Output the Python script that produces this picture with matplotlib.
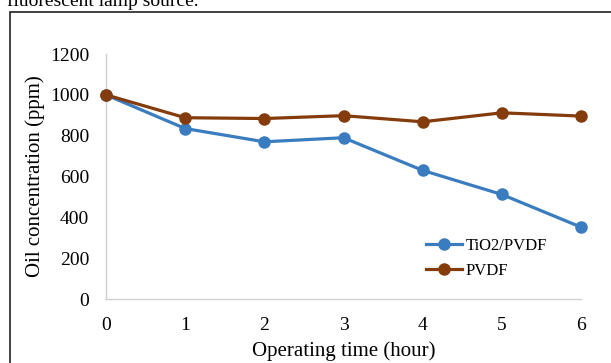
import matplotlib.pyplot as plt
from matplotlib.patches import Rectangle

# data
hours = [0, 1, 2, 3, 4, 5, 6]
tio2_pvdf = [1000, 835, 770, 790, 630, 512, 352]
pvdf = [1000, 888, 884, 898, 868, 912, 896]
y_ticks = [0, 200, 400, 600, 800, 1000, 1200]

blue = '#3A7CC0'
brown = '#843C0C'

plt.rcParams['font.family'] = ['Liberation Serif', 'DejaVu Serif']

fig = plt.figure(figsize=(6.11, 3.63), dpi=100)

# caption text cut off at the top of the crop
fig.text(0.012, 0.983, "fluorescent lamp source.", fontsize=14, ha='left', va='baseline')

# frame around the chart
fig.patches.append(Rectangle((10 / 611, -0.05), 1.2, 1 - 12 / 363 + 0.05,
                             transform=fig.transFigure, fill=False,
                             edgecolor='#222222', linewidth=1.2))

ax = fig.add_axes([0.1735, 0.1763, 0.7774, 0.6749])

ax.plot(hours, tio2_pvdf, color=blue, linewidth=2.3, marker='o', markersize=8,
        label='TiO2/PVDF', clip_on=False, zorder=3)
ax.plot(hours, pvdf, color=brown, linewidth=2.3, marker='o', markersize=8,
        label='PVDF', clip_on=False, zorder=4)

ax.set_xlim(0, 6)
ax.set_ylim(0, 1200)
ax.set_xticks(hours)
ax.set_yticks(y_ticks)
ax.tick_params(length=0, labelsize=14)
ax.tick_params(axis='x', pad=13)
ax.tick_params(axis='y', pad=12)

for side in ['top', 'right']:
    ax.spines[side].set_visible(False)
for side in ['left', 'bottom']:
    ax.spines[side].set_color('#D0D0D0')
    ax.spines[side].set_linewidth(1.0)

ax.set_xlabel('Operating time (hour)', fontsize=15, labelpad=5)
ax.set_ylabel('Oil concentration (ppm)', fontsize=15, labelpad=4)

ax.legend(loc='center left', bbox_to_anchor=(0.673, 0.165), frameon=False,
          fontsize=12, handlelength=2.2, handletextpad=0.2, labelspacing=0.55,
          borderpad=0, borderaxespad=0)

fig.savefig('out.png', dpi=100)
